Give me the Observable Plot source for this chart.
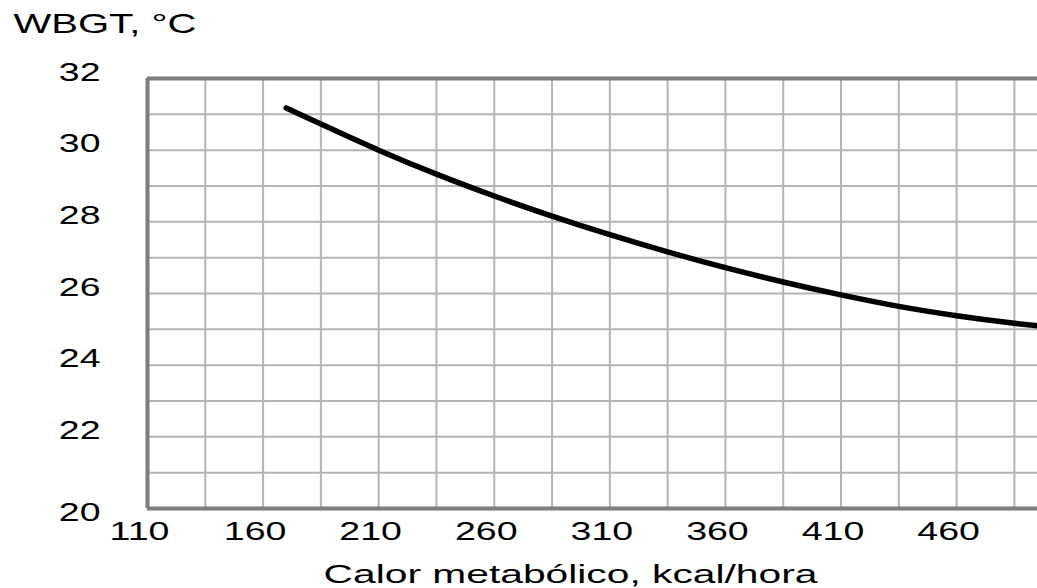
<!DOCTYPE html>
<html>
<head>
<meta charset="utf-8">
<script src="https://cdn.jsdelivr.net/npm/d3@7"></script>
<script src="https://cdn.jsdelivr.net/npm/@observablehq/plot@0.6"></script>
<style>
  html, body { margin: 0; padding: 0; background: #ffffff; }
  svg { display: block; }
</style>
</head>
<body>
<script>
// Data
const xTickLabels = [110, 160, 210, 260, 310, 360, 410, 460];
const yTickLabels = [22, 24, 26, 28, 30, 32];
const yTickLabelBottom = [20];
const xGridLines = [135, 160, 185, 210, 235, 260, 285, 310, 335, 360, 385, 410, 435, 460, 485];
const yGridLines = [21, 22, 23, 24, 25, 26, 27, 28, 29, 30, 31];
const kcal = [170, 185, 210, 235, 260, 285, 310, 335, 360, 385, 410, 435, 460, 485, 495];
const wbgt = [31.18, 30.73, 30.0, 29.33, 28.72, 28.16, 27.64, 27.16, 26.72, 26.32, 25.96, 25.64, 25.38, 25.17, 25.1];
const yTitle = "WBGT, °C";
const xTitle = "Calor metabólico, kcal/hora";

const curve = kcal.map((x, i) => ({x, y: wbgt[i]}));

const chart = Plot.plot({
  width: 1037,
  height: 588,
  marginLeft: 147,
  marginRight: 0,
  marginTop: 78,
  marginBottom: 80,
  x: {domain: [110, 495], axis: null},
  y: {domain: [20, 32], axis: null},
  style: {background: "#ffffff", fontFamily: "'Liberation Sans', Arial, sans-serif", fontSize: "25px", color: "#000", overflow: "visible"},
  marks: [
    Plot.ruleX(xGridLines, {stroke: "#b4b4b4", strokeWidth: 2}),
    Plot.ruleY(yGridLines, {stroke: "#b4b4b4", strokeWidth: 2}),
    Plot.ruleX([110], {stroke: "#7d7d7d", strokeWidth: 4}),
    Plot.ruleY([20, 32], {stroke: "#7d7d7d", strokeWidth: 4}),
    Plot.line(curve, {x: "x", y: "y", curve: "monotone-x", stroke: "#000", strokeWidth: 5.5}),
    Plot.text(yTickLabels, {y: d => d, text: d => String(d), frameAnchor: "left", textAnchor: "end", dx: -47, dy: -6, fill: "#000"}),
    Plot.text(yTickLabelBottom, {y: d => d, text: d => String(d), frameAnchor: "left", textAnchor: "end", dx: -47, dy: 4, fill: "#000"}),
    Plot.text(xTickLabels, {x: d => d, text: d => String(d), frameAnchor: "bottom", lineAnchor: "top", dx: -8, dy: 14, fill: "#000"}),
    Plot.text([xTitle], {text: d => d, frameAnchor: "bottom", lineAnchor: "top", dx: -22, dy: 57, fill: "#000"}),
    Plot.text([yTitle], {text: d => d, frameAnchor: "top-left", textAnchor: "start", lineAnchor: "top", dx: -134, dy: -65, fontSize: 28, fill: "#000"})
  ]
});

document.body.append(chart);

// The reference's lettering is stretched horizontally; widen glyphs to match.
chart.querySelectorAll("text").forEach(t => {
  const L = t.getComputedTextLength();
  const f = t.textContent.startsWith("Calor") ? 1.63 : (t.textContent.startsWith("WBGT") ? 1.43 : 1.5);
  t.setAttribute("textLength", (L * f).toFixed(1));
  t.setAttribute("lengthAdjust", "spacingAndGlyphs");
});
</script>
</body>
</html>
